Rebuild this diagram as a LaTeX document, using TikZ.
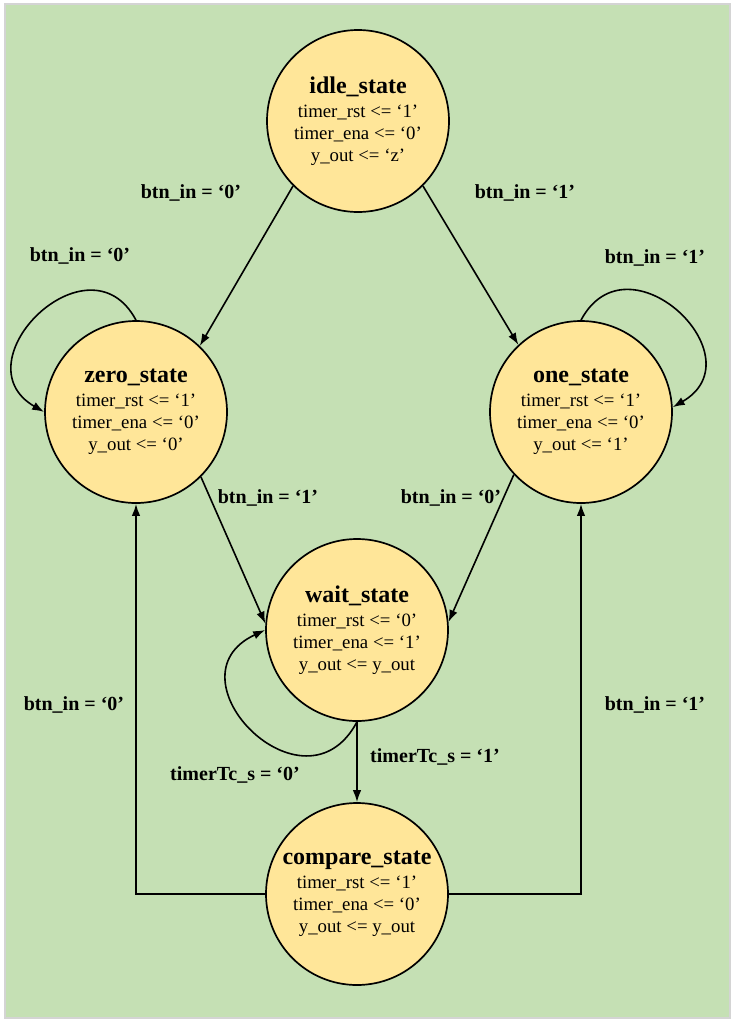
\documentclass[tikz,border=0pt]{standalone}
\usepackage{fontspec}
\setmainfont{Liberation Serif}
\usepackage{tikz}
\usetikzlibrary{positioning, calc, arrows.meta}

\definecolor{bgGreen}{HTML}{C5E0B4}
\definecolor{stateFill}{HTML}{FFE699}
\definecolor{frameGray}{HTML}{D4D4D4}

\tikzset{
  state/.style={circle, draw, fill=stateFill, line width=1.7pt, minimum size=182pt,
    inner sep=0pt, align=center, font=\fontsize{18.8}{22}\selectfont},
  trans/.style={line width=1.6pt, -{Latex[length=12pt,width=8.5pt]}},
  lbl/.style={font=\fontsize{20}{22}\selectfont\bfseries}
}
\newcommand{\stname}[1]{{\fontsize{24}{24}\selectfont\bfseries #1}\\[2pt]}

\begin{document}
\begin{tikzpicture}[x=1pt, y=1pt]

      % BACKGROUND

      \useasboundingbox (0,0) rectangle (735,-1026);
      \filldraw[fill=bgGreen, draw=frameGray, line width=1.5pt] (5,-4) rectangle (730,-1018);

      % STATES

      \node[state] (idle) at (358,-121) {\stname{idle\_state}timer\_rst <= ‘1’\\timer\_ena <= ‘0’\\y\_out <= ‘z’};
      \node[state] (zero) at (136,-412) {\stname{zero\_state}timer\_rst <= ‘1’\\timer\_ena <= ‘0’\\y\_out <= ‘0’};
      \node[state] (one) at (581,-412) {\stname{one\_state}timer\_rst <= ‘1’\\timer\_ena <= ‘0’\\y\_out <= ‘1’};
      \node[state] (wait) at (357,-630) {\stname{wait\_state}timer\_rst <= ‘0’\\timer\_ena <= ‘1’\\y\_out <= y\_out};
      \node[state] (compare) at (357,-894) {\stname{compare\_state}timer\_rst <= ‘1’\\timer\_ena <= ‘0’\\y\_out <= y\_out};

      % LABELS

      \node[lbl] (izLabel) at ($(idle)+(-167,-72)$) {btn\_in = ‘0’};
      \node[lbl] (ioLabel) at ($(idle)+(167,-72)$) {btn\_in = ‘1’};
      \node[lbl] (zzLabel) at ($(zero)+(-56,156)$) {btn\_in = ‘0’};
      \node[lbl] (ooLabel) at ($(one)+(74,154)$) {btn\_in = ‘1’};
      \node[lbl] (zwLabel) at ($(wait)+(-89,132)$) {btn\_in = ‘1’};
      \node[lbl] (owLabel) at ($(wait)+(94,132)$) {btn\_in = ‘0’};
      \node[lbl] (wwLabel) at ($(wait)+(-122,-145)$) {timerTc\_s = ‘0’};
      \node[lbl] (wcLabel) at ($(wait)+(78,-127)$) {timerTc\_s = ‘1’};
      \node[lbl] (czLabel) at ($(compare)+(-283,189)$) {btn\_in = ‘0’};
      \node[lbl] (coLabel) at ($(compare)+(298,189)$) {btn\_in = ‘1’};

      % ARCS

      \draw[trans] (idle.225) -- (zero.46);
      \draw[trans] (idle.315) -- (one.133);
      \draw[trans] (zero.north) to[out=118, in=150, distance=100pt] (zero.west);
      \draw[trans] (one.north) to[out=62, in=30, distance=100pt] (one.3);
      \draw[trans] (zero.315) -- (wait.176);
      \draw[trans] (one.223) -- (wait.5);
      \draw[trans] (wait.south) to[out=242, in=205, distance=112pt] (wait.west);
      \draw[trans] (wait.south) -- (compare.north);
      \draw[trans] (compare.west) -| (zero.south);
      \draw[trans] (compare.east) -| (one.south);

    \end{tikzpicture}
\end{document}
